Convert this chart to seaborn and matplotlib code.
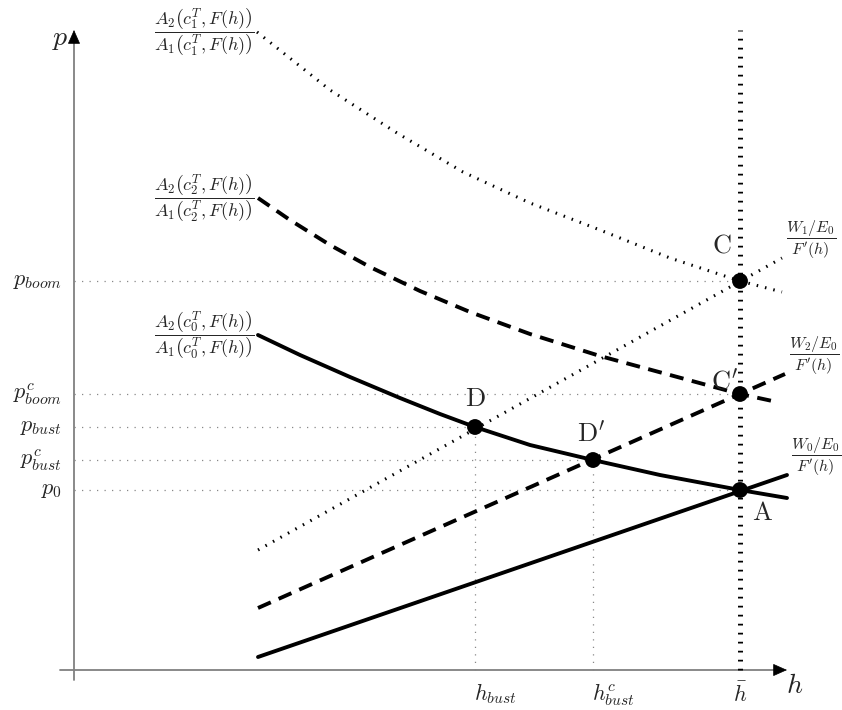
import matplotlib
matplotlib.use("Agg")
import matplotlib.pyplot as plt
import seaborn as sns

# equilibrium points (h, p)
h_bust = 4.01
h_bust_c = 5.19
h_bar = 6.66
p_boom = 3.89
p_boom_c = 2.76
p_bust = 2.43
p_bust_c = 2.10
p_0 = 1.80

# A2/A1 curves for c0, c2, c1
h_c0 = [1.84, 2.26, 2.76, 3.26, 3.66, 4.01, 4.56, 5.19, 5.86, 6.66, 7.13]
p_c0 = [3.35, 3.15, 2.93, 2.72, 2.56, 2.43, 2.25, 2.10, 1.95, 1.80, 1.72]
h_c2 = [1.84, 2.16, 2.56, 2.96, 3.46, 3.96, 4.56, 5.26, 5.96, 6.66, 7.03]
p_c2 = [4.72, 4.50, 4.25, 4.03, 3.79, 3.58, 3.36, 3.14, 2.95, 2.76, 2.68]
h_c1 = [1.83, 2.56, 3.23, 3.89, 4.56, 5.26, 5.96, 6.66, 7.08]
p_c1 = [6.38, 5.80, 5.37, 4.98, 4.67, 4.40, 4.12, 3.89, 3.78]

# W/E0 / F'(h) lines (start, end)
h_w0 = [1.84, 7.13]
p_w0 = [0.13, 1.95]
h_w2 = [1.84, 7.11]
p_w2 = [0.62, 2.96]
h_w1 = [1.84, 7.08]
p_w1 = [1.20, 4.12]

sns.set_theme(style="white")
plt.rcParams["mathtext.fontset"] = "cm"

fig = plt.figure(figsize=(8.42, 7.10), dpi=100)
ax = fig.add_axes([0, 0, 1, 1])
ax.set_xlim(-0.74, 7.68)
ax.set_ylim(-0.40, 6.70)
ax.axis("off")

axis_col = "#808080"
x_top = 6.40
x_right = 7.13

# axes with arrow heads
ax.plot([0, 0], [-0.10, x_top - 0.1], color=axis_col, lw=1.3)
ax.plot([-0.14, x_right - 0.1], [0, 0], color=axis_col, lw=1.3)
ax.annotate("", xy=(0, x_top), xytext=(0, x_top - 0.12),
            arrowprops=dict(arrowstyle="-|>,head_length=0.45,head_width=0.2",
                            color="black", lw=0.5, shrinkA=0, shrinkB=0,
                            mutation_scale=20))
ax.annotate("", xy=(x_right, 0), xytext=(x_right - 0.12, 0),
            arrowprops=dict(arrowstyle="-|>,head_length=0.45,head_width=0.2",
                            color="black", lw=0.5, shrinkA=0, shrinkB=0,
                            mutation_scale=20))
ax.text(-0.14, 6.32, "$p$", fontsize=20, ha="center", va="center")
ax.text(7.21, -0.15, "$h$", fontsize=20, ha="center", va="center")

# thin dotted guide lines
guide = dict(color="#888888", lw=0.9, linestyle=(0, (1, 5)))
pts_h = [h_bar, h_bar, h_bust, h_bust_c, h_bar]
pts_p = [p_boom, p_boom_c, p_bust, p_bust_c, p_0]
for hh, pp in zip(pts_h, pts_p):
    ax.plot([0, hh], [pp, pp], **guide)
for hh, pp in [(h_bust, p_bust), (h_bust_c, p_bust_c)]:
    ax.plot([hh, hh], [0, pp], **guide)

# heavy dotted h-bar line
ax.plot([h_bar, h_bar], [0, x_top], color="black", lw=3.6,
        linestyle=(0, (0.35, 1.45)))

solid = dict(color="black", lw=2.8)
dashed = dict(color="black", lw=2.8, linestyle=(0, (3.6, 2.2)))
dotted = dict(color="black", lw=2.2, linestyle=(0, (0.5, 2.3)))

sns.lineplot(x=h_c0, y=p_c0, sort=False, ax=ax, **solid)
sns.lineplot(x=h_c2, y=p_c2, sort=False, ax=ax, **dashed)
sns.lineplot(x=h_c1, y=p_c1, sort=False, ax=ax, **dotted)
sns.lineplot(x=h_w0, y=p_w0, sort=False, ax=ax, **solid)
sns.lineplot(x=h_w2, y=p_w2, sort=False, ax=ax, **dashed)
sns.lineplot(x=h_w1, y=p_w1, sort=False, ax=ax, **dotted)

sns.scatterplot(x=pts_h, y=pts_p, s=130, color="black", edgecolor="none",
                ax=ax, zorder=5)

# point labels
pt_names = [r"$\mathrm{C}$", r"$\mathrm{C}'$", r"$\mathrm{D}$", r"$\mathrm{D}'$", r"$\mathrm{A}$"]
pt_offs = [(-0.18, 0.36), (-0.15, 0.12), (0.0, 0.28), (-0.02, 0.26), (0.22, -0.23)]
for name, hh, pp, (dx, dy) in zip(pt_names, pts_h, pts_p, pt_offs):
    ax.text(hh + dx, pp + dy, name, fontsize=19, ha="center", va="center")

# p tick labels
p_labels = [r"$p_{boom}$", r"$p^c_{boom}$", r"$p_{bust}$", r"$p^c_{bust}$", r"$p_0$"]
p_vals = [p_boom, p_boom_c, p_bust, p_bust_c, p_0]
for lab, pp in zip(p_labels, p_vals):
    ax.text(-0.12, pp, lab, fontsize=16, ha="right", va="center")

# h tick labels
ax.text(h_bust - 0.01, -0.11, r"$h_{bust}$", fontsize=16, ha="left", va="top")
ax.text(h_bust_c - 0.01, -0.11, r"$h^c_{bust}$", fontsize=16, ha="left", va="top")
ax.text(h_bar, -0.11, r"$\bar{h}$", fontsize=16, ha="center", va="top")

# curve labels
frac_labels = [r"$\dfrac{A_2\left(c_1^T, F(h)\right)}{A_1\left(c_1^T, F(h)\right)}$",
               r"$\dfrac{A_2\left(c_2^T, F(h)\right)}{A_1\left(c_2^T, F(h)\right)}$",
               r"$\dfrac{A_2\left(c_0^T, F(h)\right)}{A_1\left(c_0^T, F(h)\right)}$"]
for lab, pp in zip(frac_labels, [p_c1[0], p_c2[0], p_c0[0]]):
    ax.text(1.30, pp, lab, fontsize=13, ha="center", va="center")

w_labels = [r"$\dfrac{W_1/E_0}{F'(h)}$", r"$\dfrac{W_2/E_0}{F'(h)}$", r"$\dfrac{W_0/E_0}{F'(h)}$"]
for lab, hh, pp in zip(w_labels, [h_w1[1], h_w2[1], h_w0[1]], [p_w1[1], p_w2[1], p_w0[1]]):
    ax.text(hh + 0.29, pp + 0.18, lab, fontsize=11.5, ha="center", va="center")

fig.savefig("out.png", dpi=100)
